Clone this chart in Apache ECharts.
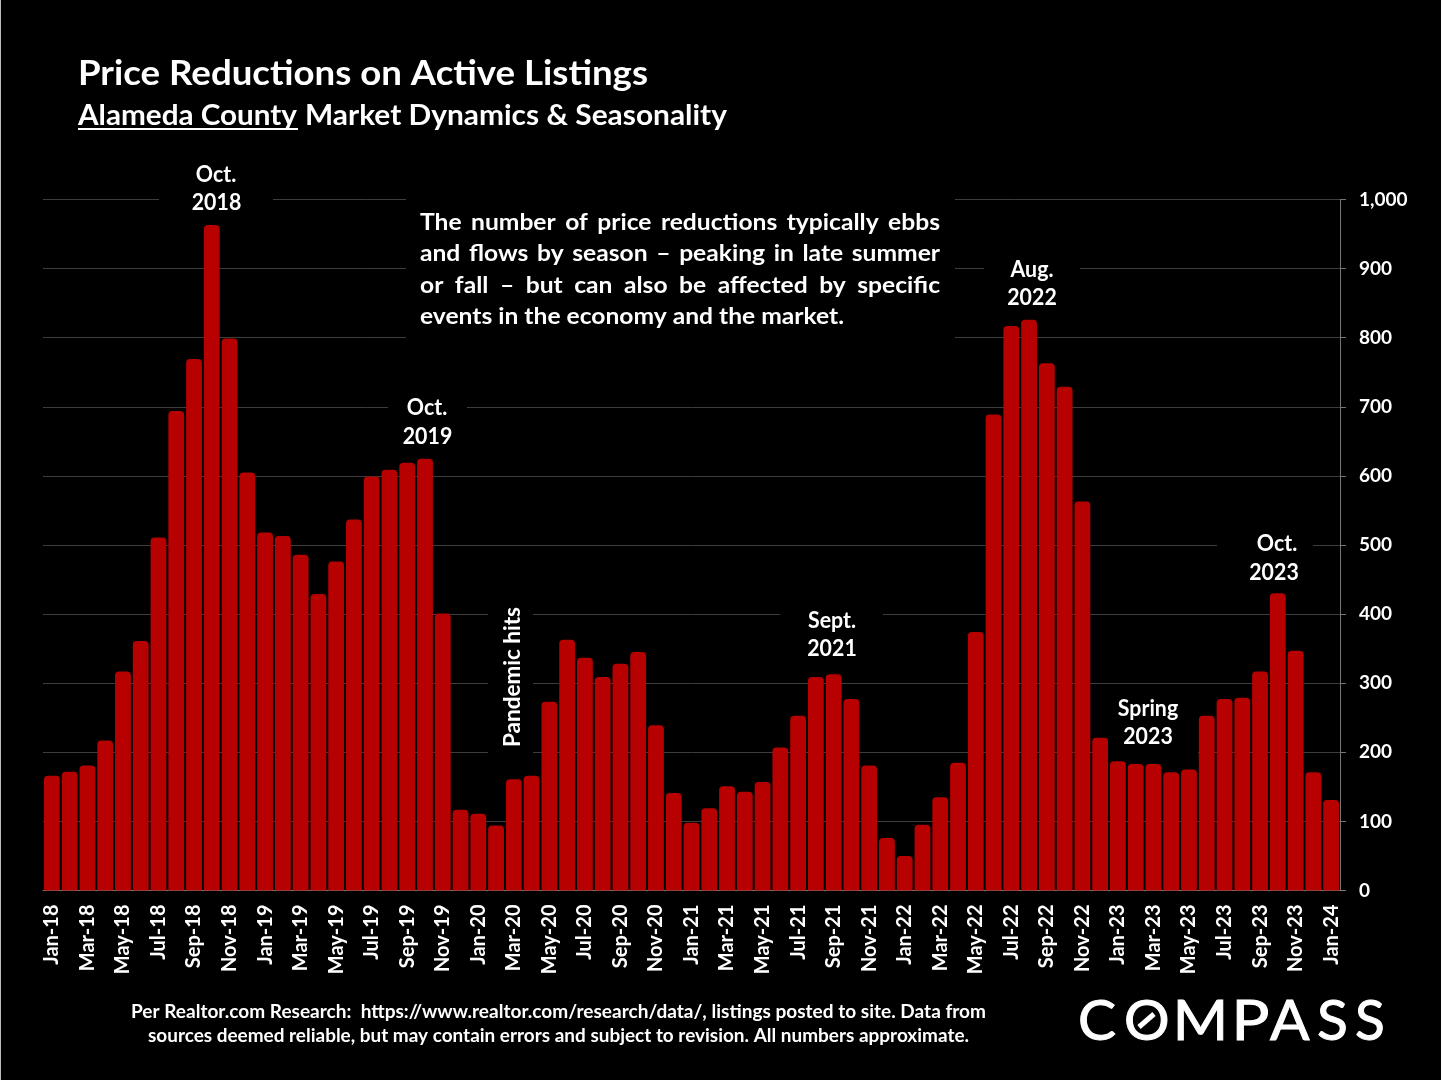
<!DOCTYPE html>
<html>
<head>
<meta charset="utf-8">
<title>Price Reductions on Active Listings</title>
<script src="https://cdn.jsdelivr.net/npm/echarts@6/dist/echarts.min.js"></script>
<style>
html,body{margin:0;padding:0;background:#000;}
#main{width:1443px;height:1080px;}
</style>
</head>
<body>
<div id="main"></div>
<script>
var months = ['Jan','Feb','Mar','Apr','May','Jun','Jul','Aug','Sep','Oct','Nov','Dec'];
var categories = [];
for (var yr = 18; yr <= 23; yr++) {
	months.forEach(function(m){ categories.push(m + '-' + yr); });
}
categories.push('Jan-24');

var values2018 = [166,172,181,217,317,361,511,694,769,963,799,605];
var values2019 = [518,513,486,429,476,537,599,609,619,625,401,117];
var values2020 = [111,94,161,166,273,363,337,309,328,345,239,141];
var values2021 = [98,119,151,143,157,207,253,309,313,277,181,76];
var values2022 = [50,95,135,185,374,689,817,826,763,729,563,221];
var values2023 = [187,183,183,171,175,253,277,279,317,430,347,171];
var values2024 = [131];
var values = values2018.concat(values2019, values2020, values2021, values2022, values2023, values2024);

var FONT = 'Lato';
var measure = document.createElement('canvas').getContext('2d');
function textW(s, size, weight){
	measure.font = (weight || 'bold') + ' ' + size + 'px ' + FONT;
	return measure.measureText(s).width;
}

// text squeezed to the width it has in the picture (the original font is narrower)
function fitText(s, x, y, size, width, weight){
	return {
		type : 'text',
		x : x,
		y : y,
		scaleX : width / textW(s, size, weight),
		z : 10,
		style : {
			text : s,
			fill : '#fff',
			font : (weight || 'bold') + ' ' + size + 'px ' + FONT,
			align : 'left',
			verticalAlign : 'middle'
		}
	};
}
function centerText(s, x, y, size){
	return {
		type : 'text',
		x : x,
		y : y,
		scaleX : 0.97,
		z : 10,
		style : {
			text : s,
			fill : '#fff',
			font : 'bold ' + size + 'px ' + FONT,
			align : 'center',
			verticalAlign : 'middle'
		}
	};
}
// logo letter, fitted on its ink and not on its advance width
function logoText(s, x, y, size, width){
	measure.font = 'normal ' + size + 'px ' + FONT;
	var m = measure.measureText(s);
	var sx = width / (m.actualBoundingBoxLeft + m.actualBoundingBoxRight);
	return {
		type : 'text',
		x : x + m.actualBoundingBoxLeft * sx,
		y : y,
		scaleX : sx,
		z : 10,
		style : {
			text : s,
			fill : '#fff',
			stroke : '#fff',
			lineWidth : 1,
			font : 'normal ' + size + 'px ' + FONT,
			align : 'left',
			verticalAlign : 'middle'
		}
	};
}
function blank(x, y, w, h){
	return {
		type : 'rect',
		z : 5,
		shape : { x : x, y : y, width : w, height : h },
		style : { fill : '#000' }
	};
}

var elements = [];

// knock-outs behind the notes
elements.push(blank(159,160,114,62), blank(388,392,79,60), blank(406,190,549,154),
	blank(780,605,103,62), blank(984,255,96,58), blank(1217,530,96,56),
	blank(1108,692,90,65), blank(488,600,45,160));

// title
elements.push(fitText('Price Reductions on Active Listings', 78, 74, 35, 570));
elements.push(fitText('Alameda County', 78, 116, 28, 219));
elements.push(fitText('Market Dynamics & Seasonality', 305, 116, 28, 422));
elements.push({
	type : 'rect', z : 10,
	shape : { x : 78, y : 128, width : 220, height : 2 },
	style : { fill : '#fff' }
});

// justified note
var noteLines = [
	'The number of price reductions typically ebbs',
	'and flows by season \u2013 peaking in late summer',
	'or fall \u2013 but can also be affected by specific',
	'events in the economy and the market.'
];
var noteY = [223, 254, 286, 317];
var NOTE_SIZE = 23, NOTE_X = 420, NOTE_W = 520;
var noteScale = 424 / textW(noteLines[3], NOTE_SIZE);
noteLines.forEach(function(line, i){
	if (i == 3) {
		elements.push(fitText(line, NOTE_X, noteY[i], NOTE_SIZE, 424));
		return;
	}
	var words = line.split(' ');
	var total = 0;
	words.forEach(function(w){ total += textW(w, NOTE_SIZE) * noteScale; });
	var gap = (NOTE_W - total) / (words.length - 1);
	var x = NOTE_X;
	words.forEach(function(w){
		var ww = textW(w, NOTE_SIZE) * noteScale;
		elements.push(fitText(w, x, noteY[i], NOTE_SIZE, ww));
		x += ww + gap;
	});
});

// peak notes
var notes = [
	['Oct.',216,175], ['2018',216.5,203],
	['Oct.',427,408], ['2019',427.5,436.5],
	['Sept.',832,621], ['2021',832,649],
	['Aug.',1032,270], ['2022',1032,298],
	['Spring',1148,709], ['2023',1148,737],
	['Oct.',1277,544], ['2023',1274,573]
];
notes.forEach(function(n){ elements.push(centerText(n[0], n[1], n[2], 22)); });

var pandemic = fitText('Pandemic hits', 513, 747, 22, 140);
pandemic.rotation = Math.PI / 2;
elements.push(pandemic);

// source
elements.push(fitText('Per Realtor.com Research:  https://www.realtor.com/research/data/, listings posted to site. Data from', 131, 1012, 18, 855));
elements.push(fitText('sources deemed reliable, but may contain errors and subject to revision. All numbers approximate.', 148, 1036, 18, 821));

// logo
var logo = [['C',1080,35],['O',1126,41],['M',1178,45],['P',1237,31],['A',1270,40],['S',1318,28],['S',1356,27]];
logo.forEach(function(l){
	elements.push(logoText(l[0], l[1], 1022, 57, l[2]));
});
elements.push({
	type : 'line', z : 10,
	shape : { x1 : 1139, y1 : 1027, x2 : 1154, y2 : 1014 },
	style : { stroke : '#fff', lineWidth : 5 }
});

// window edges
elements.push({ type : 'rect', z : 20, shape : { x : 0, y : 0, width : 1, height : 1080 }, style : { fill : '#bbb' } });
elements.push({ type : 'rect', z : 20, shape : { x : 1441, y : 0, width : 2, height : 1080 }, style : { fill : '#fff' } });

var myChart = echarts.init(document.getElementById('main'));
myChart.setOption({
	backgroundColor : '#000',
	animation : false,
	textStyle : { fontFamily : FONT },
	grid : { left : 43, right : 103, top : 199.5, bottom : 189.5, containLabel : false },
	xAxis : {
		type : 'category',
		data : categories,
		axisLine : { lineStyle : { color : '#777' } },
		axisTick : { interval : 1, length : 7, lineStyle : { color : '#777' } },
		axisLabel : {
			interval : 1,
			rotate : 90,
			margin : 14,
			padding : [5, 0, 0, 0],
			color : '#fff',
			fontFamily : FONT,
			fontWeight : 'bold',
			fontSize : 20
		}
	},
	yAxis : {
		type : 'value',
		position : 'right',
		min : 0,
		max : 1000,
		interval : 100,
		axisLine : { show : true, lineStyle : { color : '#777' } },
		axisTick : { show : true, length : 6, lineStyle : { color : '#777' } },
		axisLabel : {
			margin : 19,
			padding : [3, 0, 0, 0],
			align : 'left',
			color : '#fff',
			fontFamily : FONT,
			fontWeight : 'bold',
			fontSize : 19
		},
		splitLine : { lineStyle : { color : '#3d3d3d', width : 1 } }
	},
	series : [ {
		type : 'bar',
		data : values,
		barWidth : '89%',
		itemStyle : { color : '#b70000', borderRadius : [4, 4, 0, 0] }
	} ],
	graphic : { elements : elements }
});
</script>
</body>
</html>
